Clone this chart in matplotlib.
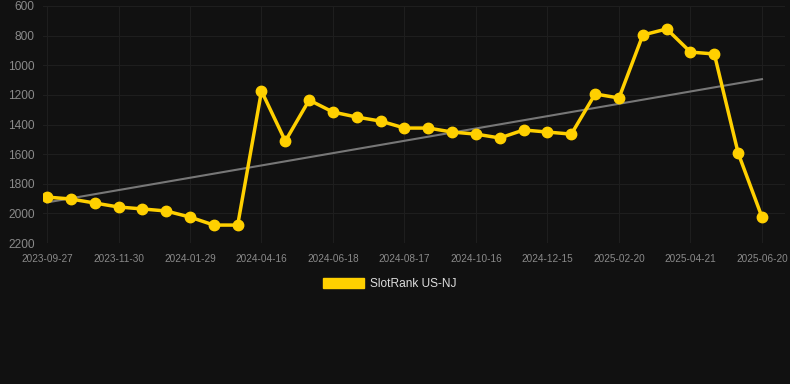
import numpy as np
import matplotlib.pyplot as plt
from matplotlib.patches import Patch

plt.rcParams['font.family'] = ['Liberation Sans', 'DejaVu Sans']

# rank values (lower rank = better, axis inverted)
ranks = [1890, 1903, 1930, 1957, 1970, 1984, 2025, 2079, 2079, 1174,
         1512, 1235, 1316, 1350, 1377, 1424, 1424, 1451, 1465, 1491,
         1437, 1451, 1465, 1194, 1221, 796, 755, 911, 924, 1593, 2025]
tick_labels = ['2023-09-27', '2023-11-30', '2024-01-29', '2024-04-16',
               '2024-06-18', '2024-08-17', '2024-10-16', '2024-12-15',
               '2025-02-20', '2025-04-21', '2025-06-20']
y_ticks = [600, 800, 1000, 1200, 1400, 1600, 1800, 2000, 2200]

bg = '#111111'
yellow = '#ffd000'

x = np.arange(len(ranks))
fig = plt.figure(figsize=(7.9, 3.84), dpi=100, facecolor=bg)
ax = fig.add_axes([43 / 790, 1 - 243 / 384, 742 / 790, 237 / 384], facecolor=bg)

# trend line (least squares)
k, b = np.polyfit(x, ranks, 1)
ax.plot(x, k * x + b, color='#777777', lw=1.5, zorder=2)

ax.plot(x, ranks, color=yellow, lw=2.5, marker='o', ms=7.5, zorder=3)

ax.set_ylim(2200, 600)
ax.set_xlim(-4 / 23.83, 30 + 23 / 23.83)
ax.set_yticks(y_ticks)
ax.set_xticks(x[::3])
ax.set_xticklabels(tick_labels)
ax.tick_params(axis='y', colors='#8a8a8a', labelsize=8.6, length=0, pad=6)
ax.tick_params(axis='x', colors='#8a8a8a', labelsize=7.2, length=0, pad=8)
ax.grid(True, color='#1e1e1e', lw=0.8)
for s in ax.spines.values():
    s.set_visible(False)

fig.legend(handles=[Patch(facecolor=yellow, edgecolor=yellow, label='SlotRank US-NJ')],
           loc='center', bbox_to_anchor=(389.5 / 790, 1 - 284 / 384),
           frameon=False, fontsize=8.6, labelcolor='#dddddd',
           handlelength=3.4, handleheight=1.0, handletextpad=0.5)

fig.savefig('out.png', facecolor=bg)
